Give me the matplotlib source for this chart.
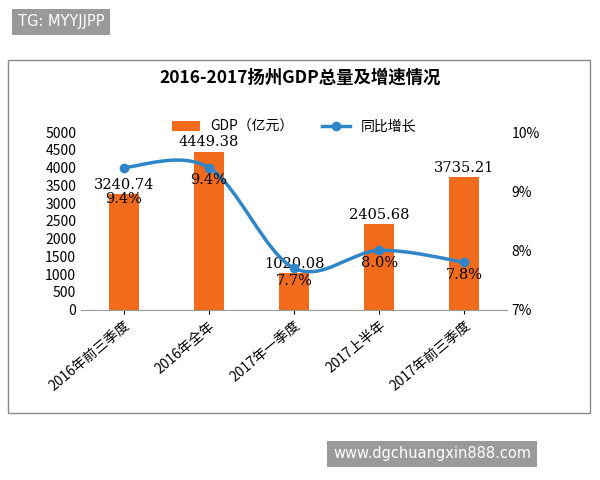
import matplotlib.pyplot as plt
import numpy as np
from matplotlib.path import Path
from matplotlib.patches import PathPatch, Rectangle
from matplotlib.lines import Line2D

plt.rcParams['font.family'] = ['Noto Sans CJK SC', 'DejaVu Sans']

categories = ["2016年前三季度", "2016年全年", "2017年一季度", "2017上半年", "2017年前三季度"]
gdp = [3240.74, 4449.38, 1020.08, 2405.68, 3735.21]
growth = [9.4, 9.4, 7.7, 8.0, 7.8]

orange = "#F26B1D"
blue = "#2E86C8"

fig = plt.figure(figsize=(6, 4.8), dpi=100)
fig.patches.append(Rectangle((0.013, 0.14), 0.97, 0.735, transform=fig.transFigure,
                             fill=False, edgecolor="#888888", lw=1))
fig.text(0.03, 0.955, "TG: MYYJJPP", color="white", fontsize=10.5, va="center",
         family="DejaVu Sans",
         bbox=dict(facecolor="#9a9a9a", edgecolor="none", pad=4))
fig.text(0.555, 0.055, "www.dgchuangxin888.com", color="white", fontsize=10.5, va="center",
         family="DejaVu Sans",
         bbox=dict(facecolor="#9a9a9a", edgecolor="none", pad=4))
fig.text(0.5, 0.828, "2016-2017扬州GDP总量及增速情况", ha="center", fontsize=12.5,
         fontweight="bold")

ax = fig.add_axes([0.135, 0.355, 0.71, 0.37])
x = np.arange(len(categories))
ax.bar(x, gdp, 0.35, color=orange, label="GDP（亿元）")
ax.set_ylim(0, 5000)
ax.set_yticks(np.arange(0, 5001, 500))
ax.set_xlim(-0.5, len(categories) - 0.5)
ax.set_xticks(x)
ax.set_xticklabels(categories, rotation=40, ha="right", rotation_mode="anchor", fontsize=10)
ax.tick_params(labelsize=10, length=0)
ax.tick_params(axis="x", length=3)
for s in ["top", "right", "left"]:
    ax.spines[s].set_visible(False)
ax.spines["bottom"].set_color("#999999")
for a, b in zip(x, gdp):
    ax.text(a, b + 60, "%.2f" % b, ha="center", va="bottom", fontsize=10.5, family="DejaVu Serif")

ax2 = ax.twinx()
ax2.set_ylim(7, 10)
ax2.set_yticks([7, 8, 9, 10])
ax2.set_yticklabels(["7%", "8%", "9%", "10%"])
ax2.tick_params(labelsize=10, length=0)
for s in ["top", "right", "left", "bottom"]:
    ax2.spines[s].set_visible(False)

# smooth curve via cubic Bezier segments through the data points
verts = [(x[0], growth[0])]
codes = [Path.MOVETO]
n = len(x)
for i in range(n - 1):
    p0 = (x[max(i - 1, 0)], growth[max(i - 1, 0)])
    p1 = (x[i], growth[i])
    p2 = (x[i + 1], growth[i + 1])
    p3 = (x[min(i + 2, n - 1)], growth[min(i + 2, n - 1)])
    c1 = (p1[0] + (p2[0] - p0[0]) / 6, p1[1] + (p2[1] - p0[1]) / 6)
    c2 = (p2[0] - (p3[0] - p1[0]) / 6, p2[1] - (p3[1] - p1[1]) / 6)
    verts += [c1, c2, p2]
    codes += [Path.CURVE4] * 3
ax2.add_patch(PathPatch(Path(verts, codes), fill=False, edgecolor=blue, lw=2.5))
ax2.plot(x, growth, "o", color=blue, ms=6)
for a, b in zip(x, growth):
    dy = 0.42 if a == 0 else 0.1
    ax2.text(a, b - dy, "%.1f%%" % b, ha="center", va="top", fontsize=10.5, family="DejaVu Serif")

h1, l1 = ax.get_legend_handles_labels()
h2 = [Line2D([], [], color=blue, lw=2.5, marker="o", ms=6)]
ax.legend(h1 + h2, l1 + ["同比增长"], loc="upper center", bbox_to_anchor=(0.5, 1.14),
          ncol=2, frameon=False, fontsize=10)

fig.savefig("out.png")
